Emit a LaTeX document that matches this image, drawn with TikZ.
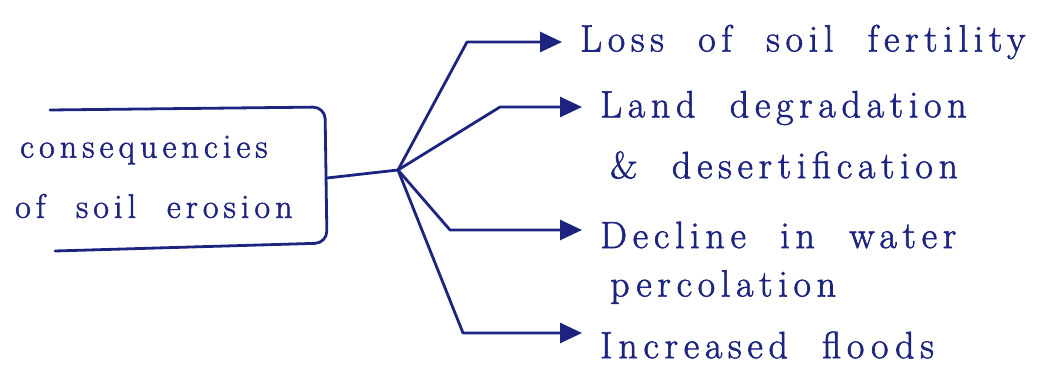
\documentclass[tikz,border=0pt]{standalone}
\usepackage{fontspec}
\newfontfamily\handfont{Latin Modern Roman}[LetterSpace=15,WordSpace=2,FakeBold=1.6]
\usetikzlibrary{arrows.meta}
\definecolor{ink}{RGB}{28,36,128}
\begin{document}
\begin{tikzpicture}[x=1pt,y=-1pt,
  pen/.style={draw=ink,line width=2.8pt,line cap=round,line join=round},
  tip/.style={pen,-{Triangle[length=22pt,width=20pt]},shorten >=18pt},
  label/.style={text=ink,anchor=west,inner sep=0pt,
    font=\handfont\fontsize{38}{44}\selectfont},
  small/.style={label,font=\handfont\fontsize{34}{40}\selectfont}]
\useasboundingbox (0,0) rectangle (1037,371);
% box with the cause
\node[small] (cause) at (20,150) {consequencies};
\node[small] (cause2) at (15,206) {of soil erosion};
\draw[pen,rounded corners=12pt] (50,110) -- (325,107) -- (327,243) -- (55,251);
\coordinate (stem) at (327,178);
\coordinate (hub) at (398,170);
% effects
\node[label] (loss) at (580,42) {Loss of soil fertility};
\node[label] (land) at (600,108) {Land degradation};
\node[label] (land2) at (610,165) {\& desertification};
\node[label] (decline) at (600,235) {Decline in water};
\node[label] (decline2) at (610,287) {percolation};
\node[label] (flood) at (600,345) {Increased floods};
\coordinate (b1) at (467,42);
\coordinate (b2) at (500,107);
\coordinate (b3) at (450,230);
\coordinate (b4) at (463,333);
\draw[pen] (stem) -- (hub);
\draw[tip] (hub) -- (b1) -- (b1 -| loss.west);
\draw[tip] (hub) -- (b2) -- (b2 -| land.west);
\draw[tip] (hub) -- (b3) -- (b3 -| decline.west);
\draw[tip] (hub) -- (b4) -- (b4 -| flood.west);
\end{tikzpicture}
\end{document}
